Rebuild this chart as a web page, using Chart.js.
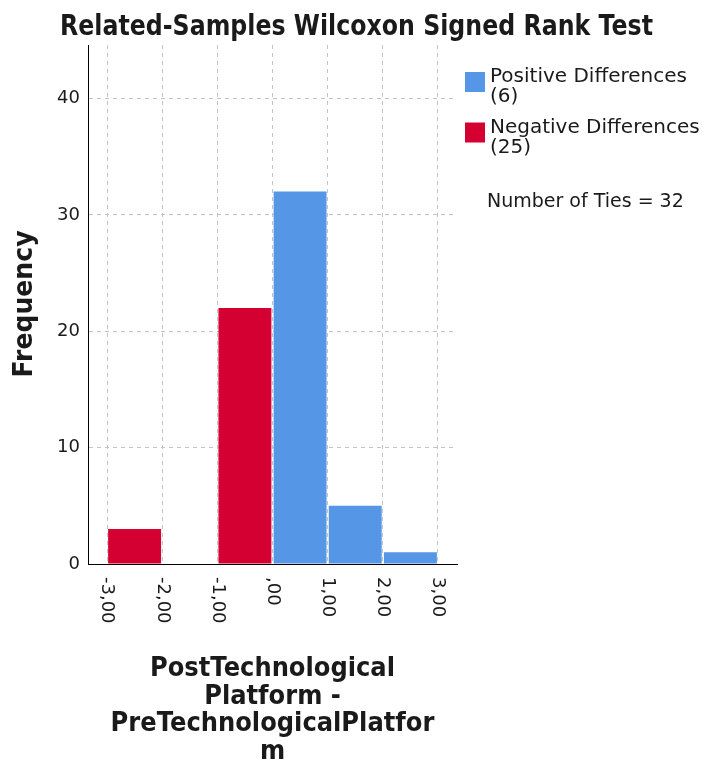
<!DOCTYPE html>
<html>
<head>
<meta charset="utf-8">
<title>Related-Samples Wilcoxon Signed Rank Test</title>
<script src="https://cdn.jsdelivr.net/npm/chart.js@4.4.1/dist/chart.umd.min.js"></script>
<style>
  html, body { margin: 0; padding: 0; background: #fff; }
  #wrap { width: 707px; height: 765px; }
</style>
</head>
<body>
<div id="wrap"><canvas id="wilcoxonChart" width="707" height="765"></canvas></div>
<script>
// 📊 Datos
const negativeBins = [-2.5, -1.5, -0.5];
const negativeCounts = [3, 0, 22];
const positiveBins = [0.5, 1.5, 2.5];
const positiveCounts = [32, 5, 1];

const xTickValues = [-3, -2, -1, 0, 1, 2, 3];
const xTickLabels = ["-3,00", "-2,00", "-1,00", ",00", "1,00", "2,00", "3,00"];
const yTickValues = [0, 10, 20, 30, 40];

const seriesNames = ["Positive Differences", "Negative Differences"];
const seriesCounts = ["(6)", "(25)"];
const tiesText = "Number of Ties = 32";

const chartTitle = "Related-Samples Wilcoxon Signed Rank Test";
const yTitle = "Frequency";
const xTitleLines = ["PostTechnological", "Platform -", "PreTechnologicalPlatfor", "m"];

const BLUE = "#5596E6";
const RED = "#D50032";

document.addEventListener("DOMContentLoaded", function () {
  // draws text at x, squeezed horizontally by factor s
  function drawScaled(ctx, text, x, y, s) {
    ctx.save();
    ctx.translate(x, y);
    ctx.scale(s, 1);
    ctx.fillText(text, 0, 0);
    ctx.restore();
  }

  const decorations = {
    id: "decorations",
    afterDraw(chart) {
      const ctx = chart.ctx;
      const xs = chart.scales.x;
      const area = chart.chartArea;
      ctx.save();
      ctx.fillStyle = "#1a1a1a";

      // title
      ctx.font = "bold 29px 'DejaVu Sans'";
      ctx.textAlign = "center";
      ctx.textBaseline = "alphabetic";
      let s = 593 / ctx.measureText(chartTitle).width;
      drawScaled(ctx, chartTitle, 356.5, 35, s);

      // y title
      ctx.font = "bold 26px 'DejaVu Sans'";
      s = 147 / ctx.measureText(yTitle).width;
      ctx.save();
      ctx.translate(32, 304);
      ctx.rotate(-Math.PI / 2);
      drawScaled(ctx, yTitle, 0, 0, s);
      ctx.restore();

      // x tick labels, rotated clockwise
      ctx.font = "18px 'DejaVu Sans'";
      ctx.textAlign = "left";
      ctx.textBaseline = "middle";
      xTickValues.forEach((v, i) => {
        const px = xs.getPixelForValue(v);
        ctx.save();
        ctx.translate(px, area.bottom + 13);
        ctx.rotate(Math.PI / 2);
        ctx.fillText(xTickLabels[i], 0, 0);
        ctx.restore();
      });

      // x title
      ctx.font = "bold 26px 'DejaVu Sans'";
      ctx.textAlign = "center";
      ctx.textBaseline = "alphabetic";
      s = 245 / ctx.measureText(xTitleLines[0]).width;
      const cx = (area.left + area.right) / 2;
      xTitleLines.forEach((line, i) => {
        drawScaled(ctx, line, cx, 676 + i * 27.5, s);
      });

      // legend
      const colors = [BLUE, RED];
      ctx.font = "20px 'DejaVu Sans'";
      ctx.textAlign = "left";
      seriesNames.forEach((name, i) => {
        const top = 72 + i * 50.5;
        ctx.fillStyle = colors[i];
        ctx.fillRect(465, top, 20, 20);
        ctx.fillStyle = "#1a1a1a";
        ctx.fillText(name, 490, top + 10);
        ctx.fillText(seriesCounts[i], 490, top + 30);
      });

      ctx.font = "19px 'DejaVu Sans'";
      ctx.fillText(tiesText, 487, 207);
      ctx.restore();
    },
  };

  const gridColor = "#c4c4c4";

  new Chart(document.getElementById("wilcoxonChart"), {
    type: "bar",
    data: {
      datasets: [
        {
          label: seriesNames[1],
          data: negativeBins.map((x, i) => ({ x: x, y: negativeCounts[i] })),
          backgroundColor: RED,
        },
        {
          label: seriesNames[0],
          data: positiveBins.map((x, i) => ({ x: x, y: positiveCounts[i] })),
          backgroundColor: BLUE,
        },
      ],
    },
    options: {
      responsive: false,
      animation: false,
      devicePixelRatio: 1,
      layout: { padding: { top: 45, right: 250, left: 0, bottom: 0 } },
      datasets: {
        bar: { grouped: false, categoryPercentage: 1, barPercentage: 0.96, borderWidth: 0 },
      },
      plugins: {
        legend: { display: false },
        title: { display: false },
        tooltip: { enabled: false },
      },
      scales: {
        x: {
          type: "linear",
          min: -3.345,
          max: 3.345,
          offset: false,
          grid: { offset: false, color: gridColor, drawTicks: false, lineWidth: 1 },
          border: { color: "#000", width: 1, dash: [4, 4] },
          ticks: { display: false },
          afterBuildTicks: (scale) => {
            scale.ticks = xTickValues.map((v) => ({ value: v }));
          },
          afterFit: (scale) => {
            scale.height = 201;
            scale.paddingLeft = scale.paddingRight = 0;
            scale.paddingTop = scale.paddingBottom = 0;
          },
        },
        y: {
          min: 0,
          max: 44.6,
          grid: { color: gridColor, drawTicks: false, lineWidth: 1 },
          border: { color: "#000", width: 1, dash: [4, 4] },
          ticks: {
            padding: 8,
            color: "#1a1a1a",
            font: { family: "'DejaVu Sans'", size: 18 },
          },
          afterBuildTicks: (scale) => {
            scale.ticks = yTickValues.map((v) => ({ value: v }));
          },
          afterFit: (scale) => {
            scale.width = 88;
            scale.paddingLeft = scale.paddingRight = 0;
            scale.paddingTop = scale.paddingBottom = 0;
          },
        },
      },
    },
    plugins: [decorations],
  });
});
</script>
</body>
</html>
